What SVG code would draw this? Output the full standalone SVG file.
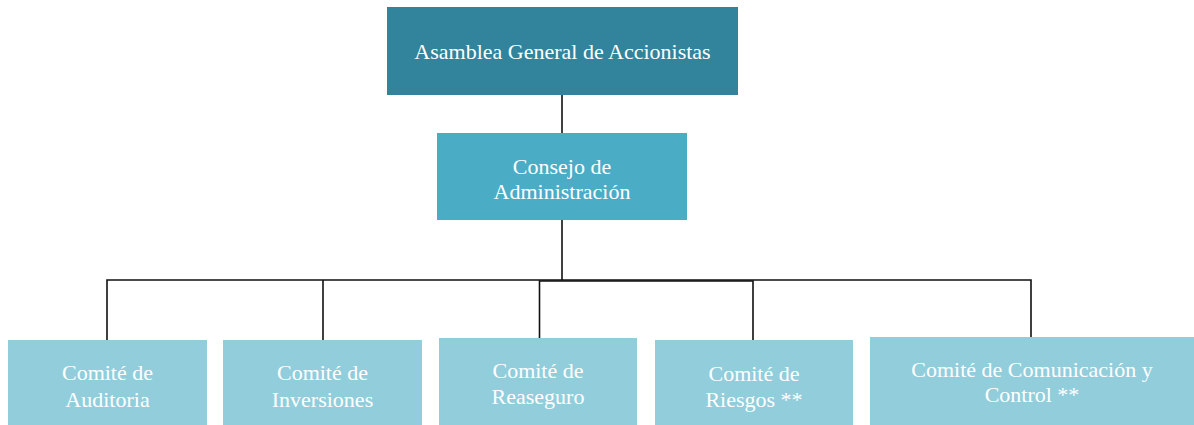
<svg xmlns="http://www.w3.org/2000/svg" width="1194" height="425" viewBox="0 0 1194 425">
<style>
.t{font-family:"Liberation Serif","Times New Roman",serif;font-size:22px;fill:#ffffff;text-anchor:middle}
.lvl0{fill:#31849B}
.lvl1{fill:#4BACC6}
.lvl2{fill:#92CDDC}
.c{stroke:#111111;stroke-width:1.6;fill:none}
</style>
<rect width="1194" height="425" fill="#ffffff"/>
<g id="connectors">
<line class="c" x1="562" y1="95" x2="562" y2="133"/>
<line class="c" x1="562" y1="219" x2="562" y2="280"/>
<polyline class="c" points="107,340 107,280 1031,280 1031,337"/>
<polyline class="c" points="539.5,338 539.5,281 753,281 753,340"/>
<line class="c" x1="323" y1="280" x2="323" y2="340"/>
</g>
<g id="asamblea">
<rect class="lvl0" x="387" y="7" width="351" height="88"/>
<text class="t" x="562.5" y="59">Asamblea General de Accionistas</text>
</g>
<g id="consejo">
<rect class="lvl1" x="437" y="133" width="250" height="87"/>
<text class="t" x="562" y="174">Consejo de</text>
<text class="t" x="562" y="199">Administración</text>
</g>
<g id="auditoria">
<rect class="lvl2" x="8" y="340" width="199" height="85"/>
<text class="t" x="107.5" y="380">Comité de</text>
<text class="t" x="107.5" y="407">Auditoria</text>
</g>
<g id="inversiones">
<rect class="lvl2" x="223" y="340" width="199" height="85"/>
<text class="t" x="322.5" y="380">Comité de</text>
<text class="t" x="322.5" y="407">Inversiones</text>
</g>
<g id="reaseguro">
<rect class="lvl2" x="439" y="338" width="198" height="87"/>
<text class="t" x="538" y="378">Comité de</text>
<text class="t" x="538" y="404">Reaseguro</text>
</g>
<g id="riesgos">
<rect class="lvl2" x="655" y="340" width="198" height="85"/>
<text class="t" x="754" y="381">Comité de</text>
<text class="t" x="754" y="407">Riesgos **</text>
</g>
<g id="comunicacion">
<rect class="lvl2" x="870" y="337" width="324" height="88"/>
<text class="t" x="1032" y="377">Comité de Comunicación y</text>
<text class="t" x="1032" y="402">Control **</text>
</g>
</svg>
